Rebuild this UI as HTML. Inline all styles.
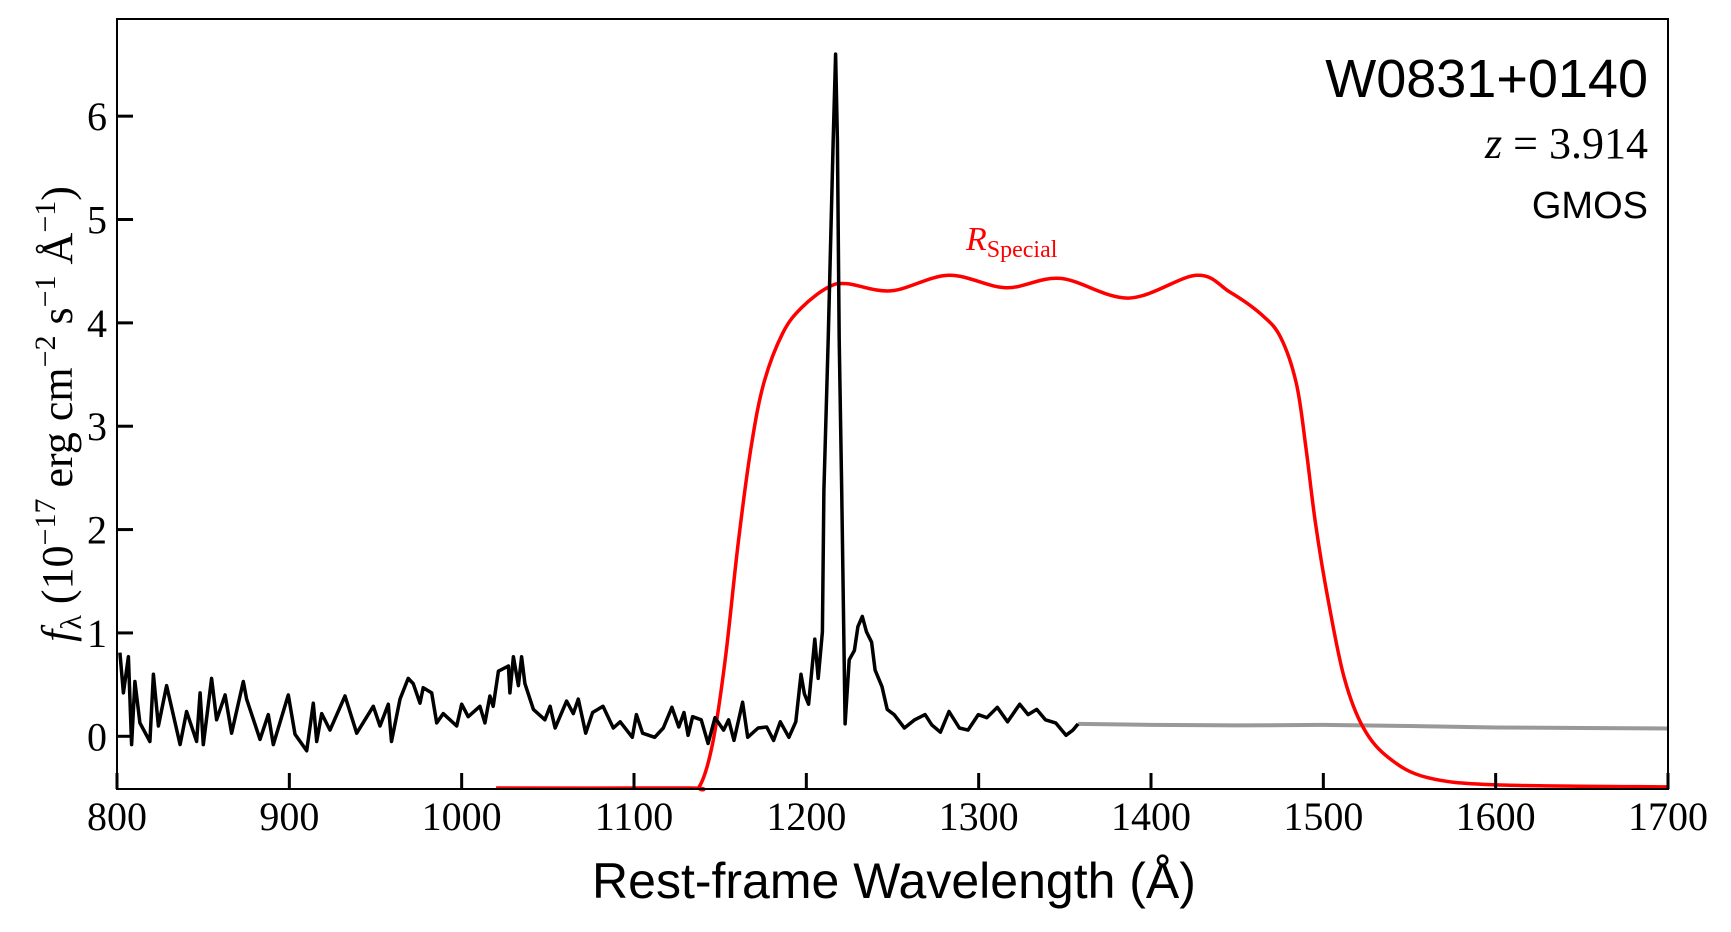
<!DOCTYPE html>
<html><head><meta charset="utf-8"><style>
html,body{margin:0;padding:0;background:#fff;}
svg{display:block;}
.serif{font-family:"Liberation Serif","DejaVu Serif",serif;}
.sans{font-family:"Liberation Sans","DejaVu Sans",sans-serif;}
</style></head><body>
<svg id="chart" width="1731" height="932" viewBox="0 0 1731 932">
  <g id="marks"></g>
  <rect x="117" y="19" width="1551" height="770" fill="none" stroke="#000" stroke-width="2"/>
  <g id="ticks"></g>
  <text class="sans" x="894" y="898" font-size="50" text-anchor="middle">Rest-frame Wavelength (Å)</text>
  <text class="serif" transform="translate(72,414) rotate(-90)" font-size="44" text-anchor="middle"><tspan font-style="italic">f</tspan><tspan font-size="30" dy="9">λ</tspan><tspan dy="-9"> (10</tspan><tspan font-size="30" dy="-17">−17</tspan><tspan dy="17"> erg cm</tspan><tspan font-size="30" dy="-17">−2</tspan><tspan dy="17"> s</tspan><tspan font-size="30" dy="-17">−1</tspan><tspan dy="17"> Å</tspan><tspan font-size="30" dy="-17">−1</tspan><tspan dy="17">)</tspan></text>
  <text class="sans" x="1648" y="97" font-size="54" text-anchor="end">W0831+0140</text>
  <text class="serif" x="1648" y="158" font-size="44" text-anchor="end"><tspan font-style="italic">z</tspan> = 3.914</text>
  <text class="sans" x="1648" y="218" font-size="38" text-anchor="end">GMOS</text>
  <text class="serif" x="966" y="250" font-size="34" fill="#ff0000"><tspan font-style="italic">R</tspan><tspan font-size="24" dy="7">Special</tspan></text>
</svg>
<script>
const specWave=[801.7,803.7,806.6,808.5,810.4,813.3,819.1,821.1,824.0,828.8,836.6,840.4,846.2,848.2,850.1,854.9,857.8,862.7,866.5,873.3,875.2,883.0,887.8,890.7,899.4,903.3,910.1,913.9,915.9,918.8,923.6,932.3,939.1,948.7,952.6,957.4,959.3,964.2,969.0,971.9,975.8,977.7,982.6,985.5,989.3,997.1,1000.0,1003.8,1010.6,1013.5,1016.4,1018.3,1021.3,1027.1,1028.0,1030.0,1032.9,1034.8,1036.7,1041.6,1048.3,1051.3,1054.2,1060.9,1064.8,1067.7,1072.0,1076.0,1082.0,1088.0,1092.0,1099.0,1101.4,1105.0,1112.0,1117.0,1122.0,1126.0,1129.0,1131.4,1134.0,1139.0,1143.0,1147.0,1152.0,1154.9,1158.0,1163.0,1166.0,1172.0,1177.0,1181.0,1184.9,1189.9,1193.9,1196.9,1198.9,1201.3,1204.9,1206.9,1209.3,1210.2,1212.7,1215.6,1217.0,1218.0,1219.1,1220.5,1222.5,1224.9,1227.9,1229.9,1232.5,1234.9,1237.9,1239.9,1243.9,1246.9,1250.9,1256.9,1262.9,1268.9,1272.8,1277.8,1282.8,1288.8,1293.8,1299.8,1304.8,1310.8,1316.8,1323.8,1328.7,1333.7,1338.7,1344.7,1350.7,1354.7,1357.7];
const specFlux=[0.81,0.42,0.77,-0.08,0.53,0.13,-0.05,0.60,0.10,0.49,-0.08,0.24,-0.05,0.42,-0.08,0.56,0.16,0.40,0.03,0.53,0.36,-0.03,0.21,-0.08,0.40,0.02,-0.14,0.32,-0.05,0.22,0.06,0.39,0.03,0.29,0.10,0.31,-0.05,0.36,0.56,0.51,0.32,0.47,0.42,0.13,0.22,0.10,0.31,0.19,0.29,0.13,0.39,0.29,0.63,0.68,0.42,0.77,0.49,0.77,0.51,0.26,0.16,0.29,0.08,0.34,0.22,0.36,0.03,0.23,0.29,0.08,0.14,-0.01,0.21,0.03,-0.01,0.08,0.28,0.09,0.23,0.01,0.19,0.16,-0.07,0.18,0.06,0.16,-0.04,0.33,-0.01,0.08,0.09,-0.04,0.14,-0.01,0.14,0.60,0.41,0.31,0.94,0.56,1.01,2.38,3.84,5.77,6.60,5.77,3.84,2.38,0.12,0.74,0.83,1.06,1.16,1.01,0.91,0.64,0.48,0.26,0.21,0.08,0.16,0.21,0.11,0.04,0.24,0.08,0.06,0.21,0.18,0.28,0.14,0.31,0.21,0.26,0.16,0.13,0.01,0.06,0.12];
const contWave=[1357.7,1400,1450,1500,1550,1600,1650,1700];
const contFlux=[0.12,0.11,0.105,0.11,0.10,0.085,0.08,0.075];
const filtWave=[1020,1130,1138.1,1145.6,1153,1160.4,1167.8,1175.2,1186.3,1197.4,1212.2,1223.3,1249.3,1282.6,1315.9,1347.4,1387,1426.3,1445.6,1464.1,1475.2,1484.4,1490,1495.6,1503,1512.2,1523.3,1538.1,1560.4,1601.1,1700];
const filtVal=[-0.5,-0.5,-0.48,-0.07,0.75,1.86,2.78,3.41,3.90,4.15,4.34,4.38,4.31,4.46,4.34,4.43,4.24,4.46,4.30,4.08,3.86,3.41,2.78,2.04,1.30,0.56,0.08,-0.21,-0.40,-0.47,-0.49];
const xTicks=[800,900,1000,1100,1200,1300,1400,1500,1600,1700];
const yTicks=[0,1,2,3,4,5,6];

const X0=117,X1=1668,Y0=789,Y1=19,XMIN=800,XMAX=1700,YMIN=-0.51,YMAX=6.94;
const sx=v=>X0+(v-XMIN)/(XMAX-XMIN)*(X1-X0);
const sy=v=>Y0-(v-YMIN)/(YMAX-YMIN)*(Y0-Y1);
const NS='http://www.w3.org/2000/svg';
const marks=document.getElementById('marks');
const ticks=document.getElementById('ticks');
function line(xs,ys,color,w,name){
  const p=document.createElementNS(NS,'polyline');
  p.setAttribute('points',xs.map((x,i)=>sx(x).toFixed(1)+','+sy(ys[i]).toFixed(1)).join(' '));
  p.setAttribute('fill','none');p.setAttribute('stroke',color);p.setAttribute('stroke-width',w);
  p.setAttribute('stroke-linejoin','round');
  
  
  marks.appendChild(p);
}
function smooth(xs,ys,color,w,name){
  const P=xs.map((x,i)=>[sx(x),sy(ys[i])]);
  let d='M'+P[0][0].toFixed(1)+','+P[0][1].toFixed(1);
  for(let i=0;i<P.length-1;i++){
    const p0=P[Math.max(0,i-1)],p1=P[i],p2=P[i+1],p3=P[Math.min(P.length-1,i+2)];
    const c1=[p1[0]+(p2[0]-p0[0])/6,p1[1]+(p2[1]-p0[1])/6];
    const c2=[p2[0]-(p3[0]-p1[0])/6,p2[1]-(p3[1]-p1[1])/6];
    d+=' C'+c1.map(v=>v.toFixed(1)).join(',')+' '+c2.map(v=>v.toFixed(1)).join(',')+' '+p2[0].toFixed(1)+','+p2[1].toFixed(1);
  }
  const p=document.createElementNS(NS,'path');
  p.setAttribute('d',d);p.setAttribute('fill','none');p.setAttribute('stroke',color);p.setAttribute('stroke-width',w);
  
  
  marks.appendChild(p);
}
line(contWave,contFlux,'#999999',4,'continuum-model-line');
smooth(filtWave,filtVal,'#ff0000',3.5,'filter-curve');
line(specWave,specFlux,'#000000',3.5,'spectrum-line');
xTicks.forEach(t=>{
  const x=sx(t);
  const l=document.createElementNS(NS,'line');
  l.setAttribute('x1',x);l.setAttribute('x2',x);l.setAttribute('y1',Y0);l.setAttribute('y2',Y0-16);
  l.setAttribute('stroke','#000');l.setAttribute('stroke-width',3);
  
  
  ticks.appendChild(l);
  const tx=document.createElementNS(NS,'text');
  tx.setAttribute('x',x);tx.setAttribute('y',830);tx.setAttribute('text-anchor','middle');
  tx.setAttribute('font-size','40');tx.setAttribute('class','serif');tx.textContent=t;
  
  
  ticks.appendChild(tx);
});
yTicks.forEach(t=>{
  const y=sy(t);
  const l=document.createElementNS(NS,'line');
  l.setAttribute('x1',X0);l.setAttribute('x2',X0+16);l.setAttribute('y1',y);l.setAttribute('y2',y);
  l.setAttribute('stroke','#000');l.setAttribute('stroke-width',3);
  
  
  ticks.appendChild(l);
  const tx=document.createElementNS(NS,'text');
  tx.setAttribute('x',107);tx.setAttribute('y',y+14);tx.setAttribute('text-anchor','end');
  tx.setAttribute('font-size','40');tx.setAttribute('class','serif');tx.textContent=t;
  
  
  ticks.appendChild(tx);
});
</script>
</body></html>
